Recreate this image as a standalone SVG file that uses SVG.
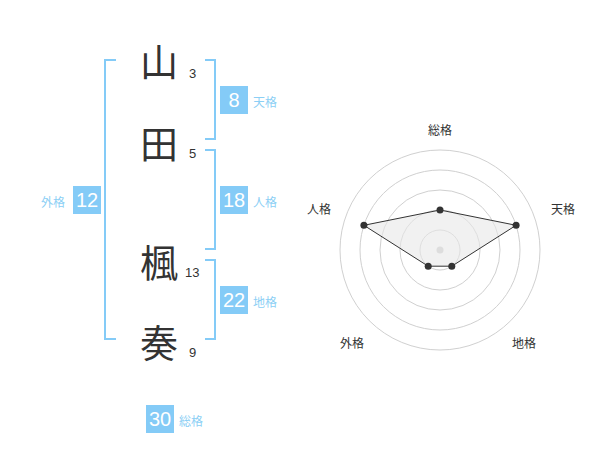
<svg xmlns="http://www.w3.org/2000/svg" width="600" height="470" viewBox="0 0 600 470">
<style>
.kanji{font-family:"Noto Sans CJK JP","Noto Sans",sans-serif;font-size:38px;fill:#333;text-anchor:middle;dominant-baseline:central}
.stroke{font-family:"Liberation Sans","Noto Sans",sans-serif;font-size:13px;fill:#333}
.br{fill:none;stroke:#84cbf7;stroke-width:2}
.box{fill:#84cbf7}
.num{font-family:"Liberation Sans",Arial,sans-serif;font-size:20px;fill:#fff;text-anchor:middle;dominant-baseline:central}
.lab{font-family:"Noto Sans CJK JP",sans-serif;font-size:12px;fill:#8ccff5;dominant-baseline:central}
.ring{fill:none;stroke:#d0d0d0;stroke-width:1}
.rl{font-family:"Noto Sans CJK JP",sans-serif;font-size:12px;fill:#333;text-anchor:middle;dominant-baseline:central}
.pt{fill:#333}
</style>
<rect width="600" height="470" fill="#fff"/>
<g id="connectors">
<path class="br" d="M116,60 H105 V339 H116"/>
<path class="br" d="M205,60 H215 V139 H205"/>
<path class="br" d="M205,150 H215 V249 H205"/>
<path class="br" d="M205,260 H215 V339 H205"/>
</g>
<g id="char-yama"><text class="kanji" x="159" y="59">山</text><text class="stroke" x="189" y="78">3</text></g>
<g id="char-ta"><text class="kanji" x="159" y="141">田</text><text class="stroke" x="189" y="158">5</text></g>
<g id="char-kaede"><text class="kanji" x="159" y="260">楓</text><text class="stroke" x="185" y="277">13</text></g>
<g id="char-kanade"><text class="kanji" x="159" y="340">奏</text><text class="stroke" x="189" y="357">9</text></g>
<g id="tenkaku"><rect class="box" x="220" y="86" width="28" height="28"/><text class="num" x="234" y="100">8</text><text class="lab" x="253" y="101">天格</text></g>
<g id="jinkaku"><rect class="box" x="220" y="186" width="28" height="28"/><text class="num" x="234" y="200">18</text><text class="lab" x="253" y="201">人格</text></g>
<g id="chikaku"><rect class="box" x="220" y="286" width="28" height="28"/><text class="num" x="234" y="300">22</text><text class="lab" x="253" y="301">地格</text></g>
<g id="gaikaku"><rect class="box" x="73" y="186" width="28" height="28"/><text class="num" x="87" y="200">12</text><text class="lab" x="41" y="201">外格</text></g>
<g id="soukaku"><rect class="box" x="146" y="405" width="28" height="28"/><text class="num" x="160" y="419">30</text><text class="lab" x="179" y="420">総格</text></g>
<g id="radar">
<circle class="ring" cx="440" cy="250" r="20"/>
<circle class="ring" cx="440" cy="250" r="40"/>
<circle class="ring" cx="440" cy="250" r="60"/>
<circle class="ring" cx="440" cy="250" r="80"/>
<circle class="ring" cx="440" cy="250" r="100"/>
<circle cx="440" cy="250" r="3.5" fill="#ccc"/>
<polygon points="440,210 516.1,225.3 451.8,266.2 428.2,266.2 363.9,225.3" fill="#e8e8e8" fill-opacity="0.6" stroke="#333" stroke-width="1"/>
<circle class="pt" cx="440" cy="210" r="3.5"/>
<circle class="pt" cx="516.1" cy="225.3" r="3.5"/>
<circle class="pt" cx="451.8" cy="266.2" r="3.5"/>
<circle class="pt" cx="428.2" cy="266.2" r="3.5"/>
<circle class="pt" cx="363.9" cy="225.3" r="3.5"/>
<text class="rl" x="440" y="129">総格</text>
<text class="rl" x="563" y="208">天格</text>
<text class="rl" x="524" y="342">地格</text>
<text class="rl" x="352" y="342">外格</text>
<text class="rl" x="319" y="208">人格</text>
</g>
</svg>
